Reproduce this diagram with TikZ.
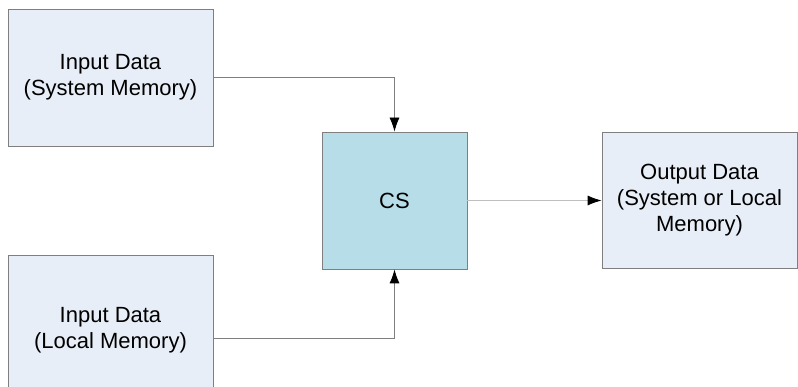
\documentclass[tikz,border=0pt]{standalone}
\usepackage{fontspec}
\setmainfont{Liberation Sans}
\usepackage{tikz}
\usetikzlibrary{arrows.meta}
\usetikzlibrary{positioning}
\definecolor{datafill}{HTML}{E8EEF7}
\definecolor{csfill}{HTML}{B7DDE8}
\definecolor{edgegray}{HTML}{7F7F7F}
\definecolor{flowlight}{HTML}{BFBFBF}
\tikzset{Data/.style={draw=edgegray, fill=datafill, line width=0.8pt, align=center,
                      minimum width=205pt, minimum height=137pt, inner sep=0pt},
         Core/.style={draw=edgegray, fill=csfill, line width=0.8pt,
                      minimum width=145pt, minimum height=137pt, inner sep=0pt},
         Flow/.style={draw=edgegray, line width=0.8pt, -{Latex[length=14pt,width=10pt,black]}},
         Flow'/.style={Flow, draw=flowlight}}

\begin{document}
\begin{tikzpicture}[x=1pt, y=1pt, font=\fontsize{22}{26}\selectfont]
    \useasboundingbox (0,0) rectangle (798,-387);
    \clip (0,0) rectangle (798,-387);
    \node[Data] (InSys) at (110.5,-77.5) {Input Data\\(System Memory)};
    \node[Data, minimum height=166pt, text depth=21pt] (InLoc) at (110.5,-338) {Input Data\\(Local Memory)};
    \node[Core] (CS) at (394.5,-200.5) {CS};
    \node[Data, minimum width=195pt, minimum height=136pt] (Out) at (699.5,-200.5) {Output Data\\(System or Local\\Memory)};
  \draw[Flow] (InSys) -| (CS);
  \draw[Flow] (InLoc) -| (CS);
  \draw[Flow'] (CS) -- (Out);
\end{tikzpicture}
\end{document}
